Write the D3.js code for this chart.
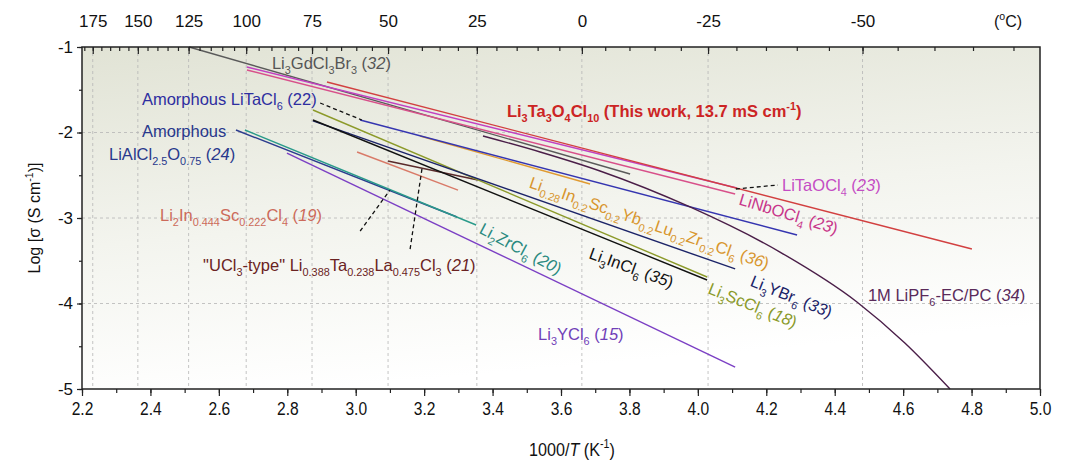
<!DOCTYPE html>
<html>
<head>
<meta charset="utf-8">
<script src="https://cdn.jsdelivr.net/npm/d3@7"></script>
<style>
  body { margin: 0; background: #fff; }
  svg { font-family: "Liberation Sans", Arial, sans-serif; }
</style>
</head>
<body>
<div id="chart"></div>
<script>
// ---- data (1000/T in K^-1, log sigma in S/cm) ----
var xTickValues = [2.2, 2.4, 2.6, 2.8, 3.0, 3.2, 3.4, 3.6, 3.8, 4.0, 4.2, 4.4, 4.6, 4.8, 5.0];
var yTickValues = [-1, -2, -3, -4, -5];
var tempLabels = [175, 150, 125, 100, 75, 50, 25, 0, -25, -50]; // deg C on top axis

var li3GdCl3Br3 = [[2.513, -1.00], [3.802, -2.485]];
var liTaOCl4 = [[2.682, -1.234], [4.114, -2.649]];
var liNbOCl4 = [[2.682, -1.269], [4.109, -2.719]];
var thisWork = [[2.916, -1.409], [4.801, -3.363]];
var amorphLiTaCl6 = [[3.013, -1.854], [4.290, -3.199]];
var highEntropy = [[3.188, -2.041], [3.685, -2.602]];
var li3InCl6 = [[2.875, -1.854], [4.027, -3.725]];
var li3ScCl6 = [[2.875, -1.737], [4.027, -3.690]];
var li3YBr6 = [[2.875, -1.865], [4.109, -3.596]];
var li2InScCl4 = [[3.004, -2.228], [3.299, -2.673]];
var ucl3Type = [[3.094, -2.333], [3.357, -2.556]];
var li2ZrCl6 = [[2.676, -1.971], [3.352, -3.082]];
var amorphLiAlClO = [[2.650, -1.971], [3.296, -2.988]];
var li3YCl6 = [[2.799, -2.240], [4.109, -4.743]];
var liPF6 = [[3.372, -2.041], [3.539, -2.228], [3.714, -2.450], [3.977, -2.871],
             [4.240, -3.398], [4.465, -3.982], [4.605, -4.462], [4.737, -5.000]];

// ---- layout ----
var fullWidth = 1070, fullHeight = 463;
var padL = 82, padR = 1040, padT = 47, padB = 389;
var labelSize = 16.5;

var lines = [
  { data: amorphLiAlClO, color: "#2c3c8e" },
  { data: li2ZrCl6, color: "#2a9a8a" },
  { data: li3YCl6, color: "#7b3fc4" },
  { data: li2InScCl4, color: "#d97a68" },
  { data: ucl3Type, color: "#5a2a2a" },
  { data: li3ScCl6, color: "#8c9a2a" },
  { data: li3YBr6, color: "#1c2468" },
  { data: li3InCl6, color: "#111111" },
  { data: highEntropy, color: "#e09a30" },
  { data: amorphLiTaCl6, color: "#3535b0" },
  { data: liPF6, color: "#4a1e48", curve: true },
  { data: li3GdCl3Br3, color: "#5a5a5a" },
  { data: liNbOCl4, color: "#d8508a" },
  { data: liTaOCl4, color: "#c23fc2" },
  { data: thisWork, color: "#d24040" }
];

// labels: markup  _{sub}  ^{sup}  *italic*
var labels = [
  { t: "Li_{3}GdCl_{3}Br_{3} (*32*)", at: [2.755, -1.257], c: "#555555" },
  { t: "Amorphous LiTaCl_{6} (22)", at: [2.375, -1.678], c: "#2e2ea0" },
  { t: "Li_{3}Ta_{3}O_{4}Cl_{10} (This work, 13.7 mS cm^{-1})", at: [3.442, -1.819], c: "#cc2424", bold: true },
  { t: "Amorphous", at: [2.375, -2.053], c: "#28388c" },
  { t: "LiAlCl_{2.5}O_{0.75} (*24*)", at: [2.279, -2.322], c: "#28388c" },
  { t: "Li_{2}In_{0.444}Sc_{0.222}Cl_{4} (*19*)", at: [2.428, -3.035], c: "#cc6a5a" },
  { t: "\"UCl_{3}-type\" Li_{0.388}Ta_{0.238}La_{0.475}Cl_{3} (*21*)", at: [2.554, -3.620], c: "#6a2222" },
  { t: "Li_{2}ZrCl_{6} (*20*)", at: [3.358, -3.170], c: "#2a8a80", rot: 28 },
  { t: "Li_{3}InCl_{6} (*35*)", at: [3.679, -3.468], c: "#111111", rot: 20 },
  { t: "Li_{3}ScCl_{6} (*18*)", at: [4.027, -3.877], c: "#8a9a2a", rot: 22 },
  { t: "Li_{3}YBr_{6} (*33*)", at: [4.150, -3.790], c: "#1c2468", rot: 22 },
  { t: "Li_{0.28}In_{0.2}Sc_{0.2}Yb_{0.2}Lu_{0.2}Zr_{0.2}Cl_{6} (*36*)", at: [3.504, -2.640], c: "#d8962e", rot: 19 },
  { t: "LiNbOCl_{4} (*23*)", at: [4.117, -2.840], c: "#c8368a", rot: 17 },
  { t: "LiTaOCl_{4} (*23*)", at: [4.246, -2.684], c: "#c44cc4" },
  { t: "1M LiPF_{6}-EC/PC (*34*)", at: [4.497, -3.971], c: "#5a2a5a" },
  { t: "Li_{3}YCl_{6} (*15*)", at: [3.533, -4.427], c: "#7040b8" }
];

// dashed leader lines
var leaders = [
  [[2.896, -1.655], [3.018, -1.854]],
  [[4.111, -2.661], [4.234, -2.614]],
  [[3.013, -3.152], [3.100, -2.673]],
  [[3.159, -3.363], [3.194, -2.415]]
];

var xScale = d3.scaleLinear().domain([2.2, 5.0]).range([padL, padR]);
var yScale = d3.scaleLinear().domain([-5, -1]).range([padB, padT]);
function tempToX(t) { return 1000 / (t + 273.15); }

var svg = d3.select("#chart").append("svg")
  .attr("width", fullWidth)
  .attr("height", fullHeight);

// background gradient in plot area
var grad = svg.append("defs").append("linearGradient")
  .attr("id", "bg").attr("x1", 0).attr("y1", 0).attr("x2", 0.25).attr("y2", 1);
grad.append("stop").attr("offset", "0%").attr("stop-color", "#e1e3d5");
grad.append("stop").attr("offset", "55%").attr("stop-color", "#f3f4ee");
grad.append("stop").attr("offset", "100%").attr("stop-color", "#ffffff");

svg.append("rect")
  .attr("x", padL).attr("y", padT)
  .attr("width", padR - padL).attr("height", padB - padT)
  .attr("fill", "url(#bg)");

// grid
var grid = svg.append("g").attr("stroke", "#b5b5b5").attr("stroke-width", 0.8).attr("stroke-dasharray", "3,3");
tempLabels.forEach(function(t) {
  var px = xScale(tempToX(t));
  grid.append("line").attr("x1", px).attr("x2", px).attr("y1", padT).attr("y2", padB);
});
[-2, -3, -4].forEach(function(v) {
  grid.append("line").attr("x1", padL).attr("x2", padR).attr("y1", yScale(v)).attr("y2", yScale(v));
});

// data lines
var lineGen = d3.line().x(function(d) { return xScale(d[0]); }).y(function(d) { return yScale(d[1]); });
var curveGen = d3.line().x(function(d) { return xScale(d[0]); }).y(function(d) { return yScale(d[1]); })
  .curve(d3.curveMonotoneX);

svg.append("g").selectAll("path")
  .data(lines)
  .enter().append("path")
  .attr("d", function(d) { return d.curve ? curveGen(d.data) : lineGen(d.data); })
  .attr("fill", "none")
  .attr("stroke", function(d) { return d.color; })
  .attr("stroke-width", 1.4);

svg.append("g").selectAll("path")
  .data(leaders)
  .enter().append("path")
  .attr("d", lineGen)
  .attr("fill", "none")
  .attr("stroke", "#111")
  .attr("stroke-width", 1.3)
  .attr("stroke-dasharray", "4,3");

// rich text helper
function richText(sel, str, size) {
  var re = /(_\{[^}]*\}|\^\{[^}]*\}|\*[^*]*\*|[^_^*]+)/g;
  var m, shift = 0;
  while ((m = re.exec(str)) !== null) {
    var tok = m[0], txt = tok, target = 0, small = false, ital = false;
    if (tok[0] === "_") { txt = tok.slice(2, -1); target = 0.32 * size; small = true; }
    else if (tok[0] === "^") { txt = tok.slice(2, -1); target = -0.42 * size; small = true; }
    else if (tok[0] === "*") { txt = tok.slice(1, -1); ital = true; }
    var ts = sel.append("tspan").text(txt).attr("dy", target - shift);
    if (small) ts.attr("font-size", (size * 0.66) + "px");
    if (ital) ts.attr("font-style", "italic");
    shift = target;
  }
}

var lab = svg.append("g");
labels.forEach(function(l) {
  var size = labelSize;
  var t = lab.append("text")
    .attr("transform", "translate(" + xScale(l.at[0]) + "," + yScale(l.at[1]) + ")" + (l.rot ? " rotate(" + l.rot + ")" : ""))
    .attr("fill", l.c)
    .style("font-size", size + "px")
    .style("font-weight", l.bold ? "bold" : "normal");
  richText(t, l.t, size);
});

// axes
function styleAxis(g) {
  g.select(".domain").remove();
  g.selectAll("line").attr("stroke", "#222").attr("stroke-width", 1.2);
  g.selectAll("text").attr("fill", "#111").style("font-size", "17px");
}

var minorX = d3.range(22, 51).map(function(v) { return v / 10; });
svg.append("g").attr("transform", "translate(0," + padB + ")")
  .call(d3.axisBottom(xScale).tickValues(minorX).tickSize(4).tickFormat(""))
  .call(styleAxis);
svg.append("g").attr("transform", "translate(0," + padB + ")")
  .call(d3.axisBottom(xScale).tickValues(xTickValues).tickSize(7).tickPadding(6)
    .tickFormat(function(d) { return d.toFixed(1); }))
  .call(styleAxis)
  .selectAll("text").style("font-size", "19px").attr("transform", "scale(0.82,1)");

var minorY = d3.range(-5, -0.9, 0.5);
svg.append("g").attr("transform", "translate(" + padL + ",0)")
  .call(d3.axisLeft(yScale).tickValues(minorY).tickSize(3).tickFormat(""))
  .call(styleAxis);
svg.append("g").attr("transform", "translate(" + padL + ",0)")
  .call(d3.axisLeft(yScale).tickValues(yTickValues).tickSize(5).tickPadding(4)
    .tickFormat(function(d) { return String(d); }))
  .call(styleAxis);

// top temperature axis (ticks inward)
var minorT = d3.range(180, -75, -5).filter(function(t) { return tempToX(t) <= 5.0 && tempToX(t) >= 2.2; });
svg.append("g").attr("transform", "translate(0," + padT + ")")
  .call(d3.axisTop(xScale).tickValues(minorT.map(tempToX)).tickSizeInner(-4).tickSizeOuter(0).tickFormat(""))
  .call(styleAxis);
svg.append("g").attr("transform", "translate(0," + padT + ")")
  .call(d3.axisTop(xScale).tickValues(tempLabels.map(tempToX)).tickSizeInner(-7).tickSizeOuter(0).tickPadding(20)
    .tickFormat(function(d) { return String(Math.round(1000 / d - 273.15)); }))
  .call(styleAxis);

// frame
svg.append("rect")
  .attr("x", padL).attr("y", padT)
  .attr("width", padR - padL).attr("height", padB - padT)
  .attr("fill", "none").attr("stroke", "#222").attr("stroke-width", 1.5);

// axis titles
var degLabel = svg.append("text").attr("x", 1008).attr("y", 27).attr("text-anchor", "middle")
  .style("font-size", "16px").attr("fill", "#111");
richText(degLabel, "(^{o}C)", 16);

var xTitle = svg.append("text").attr("transform", "translate(572,456) scale(0.85,1)").attr("text-anchor", "middle")
  .style("font-size", "19px").attr("fill", "#111");
richText(xTitle, "1000/*T* (K^{-1})", 19);

var yTitle = svg.append("text").attr("transform", "translate(40," + ((padT + padB) / 2) + ") rotate(-90)")
  .attr("text-anchor", "middle").style("font-size", "16px").attr("fill", "#111");
richText(yTitle, "Log [σ (S cm^{-1})]", 16);
</script>
</body>
</html>
